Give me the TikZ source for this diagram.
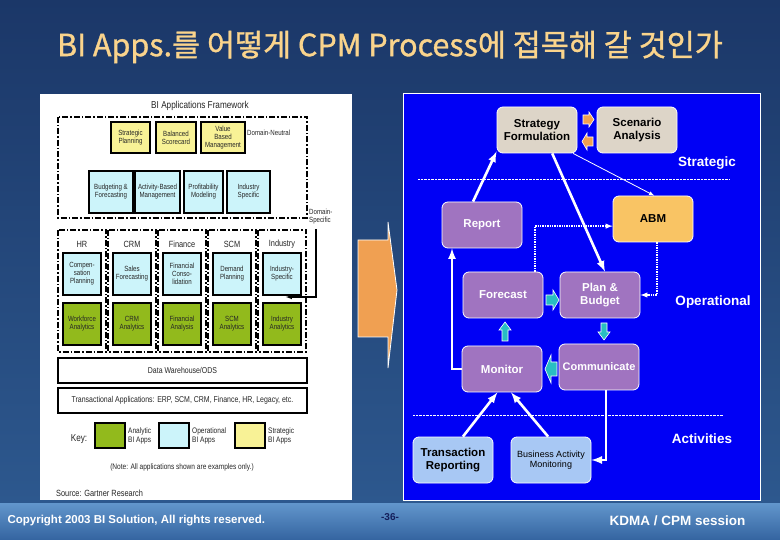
\documentclass[tikz,border=0pt]{standalone}
\usepackage{fontspec}
\setmainfont{Liberation Sans}
\newfontfamily\krfont[FakeBold=1.1]{Noto Sans CJK KR}
\newfontfamily\narrowfont[FakeStretch=0.82]{Liberation Sans}
\usepackage{xcolor}
\usetikzlibrary{arrows,calc}

\definecolor{titlegold}{RGB}{250,212,140}
\definecolor{bgdark}{RGB}{27,55,104}
\definecolor{bgmid}{RGB}{45,88,142}
\definecolor{footlight}{RGB}{98,150,204}
\definecolor{footdark}{RGB}{52,100,160}
\definecolor{panelblue}{RGB}{0,0,245}
\definecolor{procpurple}{RGB}{160,116,192}
\definecolor{stratgray}{RGB}{221,213,200}
\definecolor{abmorange}{RGB}{249,196,100}
\definecolor{actblue}{RGB}{168,200,244}
\definecolor{bigorange}{RGB}{240,160,82}
\definecolor{smallcyan}{RGB}{40,190,195}
\definecolor{gyellow}{RGB}{248,242,150}
\definecolor{gcyan}{RGB}{204,244,250}
\definecolor{ggreen}{RGB}{146,186,28}
\definecolor{pagenum}{RGB}{20,30,90}

\tikzset{
  gbox/.style={draw=black, line width=1.4pt},
  gtext/.style={align=center, inner sep=0pt, text=black!85,
                font=\narrowfont\fontsize{7.5}{8}\selectfont},
  dashbox/.style={draw=black, line width=1.1pt,
                  dash pattern=on 6pt off 2pt on 1.5pt off 2pt},
  procbox/.style={rounded corners=6pt, draw=white, line width=0.8pt,
                  align=center, minimum width=80pt, minimum height=46pt,
                  inner sep=1pt, font=\bfseries\fontsize{11.5}{13}\selectfont},
  levellabel/.style={text=white, font=\bfseries\fontsize{13.5}{15}\selectfont},
  flowline/.style={draw=white, line width=2.6pt, -latex},
  thinflow/.style={draw=white, line width=0.8pt, -latex},
  dotflow/.style={draw=white, line width=1.4pt, densely dotted, -latex},
  blockarrow/.style={draw=white, line width=0.6pt, line join=miter}
}

\begin{document}
\begin{tikzpicture}[x=1pt, y=-1pt]
                  \useasboundingbox (0,0) rectangle (780,540);
                  \shade[top color=bgdark, bottom color=bgmid] (0,0) rectangle (780,503);
                  \shade[top color=footlight, bottom color=footdark] (0,503) rectangle (780,540);
                  \node[font=\krfont\fontsize{30.5}{34}\selectfont, text=titlegold] (title)
                  at (390,47) {BI Apps.를 어떻게 CPM Process에 접목해 갈 것인가};
                  % Gartner framework
                  \fill[white] (40,94) rectangle (352,500);
                  \node[gtext, font=\narrowfont\fontsize{10}{11}\selectfont] (fwtitle) at (200,106)
                  {BI Applications Framework};
                  \draw[dashbox] (58,117) rectangle (307,218);
                  \foreach \xa/\xb/\txt [count=\i] in {111/150/{Strategic\\Planning},
                      156/196/{Balanced\\Scorecard}, 201/245/{Value\\Based\\Management}}
                  \filldraw[gbox, fill=gyellow] (\xa,122) rectangle (\xb,153) node[pos=.5, gtext]
                  (st\i) {\txt};
                  \foreach \xa/\xb/\txt [count=\i] in {89/133/{Budgeting \&\\Forecasting},
                      135/180/{Activity-Based\\Management}, 184/223/{Profitability\\Modeling},
                      227/270/{Industry\\Specific}}
                  \filldraw[gbox, fill=gcyan] (\xa,171) rectangle (\xb,213) node[pos=.5, gtext]
                  (dn\i) {\txt};
                  \node[gtext, anchor=west] (dneutral) at (247,133) {Domain-Neutral};
                  \node[gtext, anchor=west, align=left] (dspec) at (309,217) {Domain-\\Specific};
                  \foreach \x/\hd/\op/\an [count=\i] in {58/HR/{Compen-\\sation\\Planning}/{Workforce\\Analytics},
                      108/CRM/{Sales\\Forecasting}/{CRM\\Analytics},
                      158/Finance/{Financial\\Conso-\\lidation}/{Financial\\Analysis},
                      208/SCM/{Demand\\Planning}/{SCM\\Analytics},
                      258/Industry/{Industry-\\Specific}/{Industry\\Analytics}}
                  {
                  \draw[dashbox] (\x,230) rectangle (\x+48,352) node[pos=.5] (col\i) {};
                  \node[gtext, font=\narrowfont\fontsize{9}{9}\selectfont] (hd\i) at (\x+24,244) {\hd};
                  \filldraw[gbox, fill=gcyan] (\x+5,253) rectangle (\x+43,295) node[pos=.5, gtext]
                  (op\i) {\op};
                  \filldraw[gbox, fill=ggreen] (\x+5,303) rectangle (\x+43,345) node[pos=.5, gtext]
                  (an\i) {\an};
                  }
                  \coordinate (dsarrow) at (316,229);
                  \draw[line width=1.1pt, -latex] (dsarrow) |- ($(col5.east)+(0,6)$);
                  \draw[line width=2.2pt] (58,358) rectangle (307,383) node[pos=.5, gtext,
                  font=\narrowfont\fontsize{8.5}{9}\selectfont] (dw) {Data Warehouse/ODS};
                  \draw[line width=1.6pt] (58,388) rectangle (307,413) node[pos=.5, gtext,
                  font=\narrowfont\fontsize{8.5}{9}\selectfont] (trans)
                  {Transactional Applications: ERP, SCM, CRM, Finance, HR, Legacy, etc.};
                  \node[gtext, font=\narrowfont\fontsize{10}{10}\selectfont] (key) at (79,439) {Key:};
                  \foreach \xa/\col/\txt [count=\i] in {95/ggreen/Analytic, 159/gcyan/Operational,
                      235/gyellow/Strategic}
                  {
                  \filldraw[line width=1.2pt, fill=\col] (\xa,423) rectangle (\xa+30,448);
                  \node[gtext, anchor=west, align=left, font=\narrowfont\fontsize{8}{9}\selectfont]
                  (key\i) at (\xa+33,436) {\txt\\BI Apps};
                  }
                  \node[gtext, font=\narrowfont\fontsize{8}{9}\selectfont] (note) at (182,467)
                  {(Note: All applications shown are examples only.)};
                  \node[gtext, anchor=west, font=\narrowfont\fontsize{9}{9}\selectfont] (source)
                  at (56,493) {Source: Gartner Research};
                  % big arrow
                  \filldraw[fill=bigorange, draw=white, line width=0.8pt] (358,240) -- (388,240)
                  -- (388,222) -- (397,290) -- (388,368) -- (388,337) -- (358,337) -- cycle;
                  % CPM process
                  \filldraw[fill=panelblue, draw=white, line width=1pt] (403,94) rectangle (760,500);
                  \draw[white, densely dotted] (418,179) -- (730,179);
                  \draw[white, densely dotted] (413,415) -- (723,415);
                  \node[levellabel] (lstrat) at (707,163) {Strategic};
                  \node[levellabel] (loper) at (713,302) {Operational};
                  \node[levellabel] (lact) at (702,439) {Activities};
                  \node[procbox, fill=stratgray] (sf) at (537,130) {Strategy\\Formulation};
                  \node[procbox, fill=stratgray] (sa) at (637,130) {Scenario\\Analysis};
                  \node[procbox, fill=procpurple, text=white] (report) at (482,225) {Report};
                  \node[procbox, fill=abmorange] (abm) at (653,219) {ABM};
                  \node[procbox, fill=procpurple, text=white] (forecast) at (503,295) {Forecast};
                  \node[procbox, fill=procpurple, text=white] (plan) at (600,295) {Plan \&\\Budget};
                  \node[procbox, fill=procpurple, text=white] (monitor) at (502,369) {Monitor};
                  \node[procbox, fill=procpurple, text=white, font=\bfseries\fontsize{11}{13}\selectfont]
                  (comm) at (599,367) {Communicate};
                  \node[procbox, fill=actblue] (tr) at (453,460) {Transaction\\Reporting};
                  \node[procbox, fill=actblue, font=\fontsize{9}{10.5}\selectfont] (bam) at (551,460)
                  {Business Activity\\Monitoring};
                  % small block arrows
                  \filldraw[blockarrow, fill=bigorange] (583,115) -- (589,115) -- (589,112) -- (594,119.5)
                  -- (589,127) -- (589,124) -- (583,124) -- cycle;
                  \filldraw[blockarrow, fill=bigorange] (593,137) -- (587,137) -- (587,133) -- (582,141.5)
                  -- (587,150) -- (587,146) -- (593,146) -- cycle;
                  \filldraw[blockarrow, fill=smallcyan] (546,295) -- (553,295) -- (553,290) -- (559,300)
                  -- (553,310) -- (553,305) -- (546,305) -- cycle;
                  \filldraw[blockarrow, fill=smallcyan] (502,341) -- (502,330) -- (499,330) -- (505,322)
                  -- (511,330) -- (508,330) -- (508,341) -- cycle;
                  \filldraw[blockarrow, fill=smallcyan] (601,323) -- (607,323) -- (607,332) -- (610,332)
                  -- (604,340) -- (598,332) -- (601,332) -- cycle;
                  \filldraw[blockarrow, fill=smallcyan] (557,362) -- (551,362) -- (551,355) -- (545,369)
                  -- (551,383) -- (551,376) -- (557,376) -- cycle;
                  \draw[flowline] (report.111) -- (sf.208);
                  \draw[flowline] (sf.303) -- (plan.78);
                  \draw[thinflow] (sf.327) -- (abm.87);
                  \draw[dotflow] ($(forecast.north)+(32,0)$) |- (abm.190);
                  \draw[dotflow] ($(abm.south)+(4,0)$) |- (plan.east);
                  \draw[flowline] (monitor.west) -| ($(report.south)+(-30,0)$);
                  \draw[flowline] (tr.67) -- (monitor.259);
                  \draw[flowline] (bam.97) -- (monitor.291);
                  \draw[flowline] ($(comm.south)+(7,0)$) |- (bam.east);
                  % footer
                  \node[text=white, font=\bfseries\fontsize{11.5}{13}\selectfont, anchor=west] (copy)
                  at (4,521) {Copyright 2003 BI Solution, All rights reserved.};
                  \node[text=pagenum, font=\bfseries\fontsize{10}{11}\selectfont] (pnum) at (390,517) {-36-};
                  \node[text=white, font=\bfseries\fontsize{13.5}{15}\selectfont, anchor=east] (session)
                  at (749,521) {KDMA / CPM session};
\end{tikzpicture}
\end{document}
